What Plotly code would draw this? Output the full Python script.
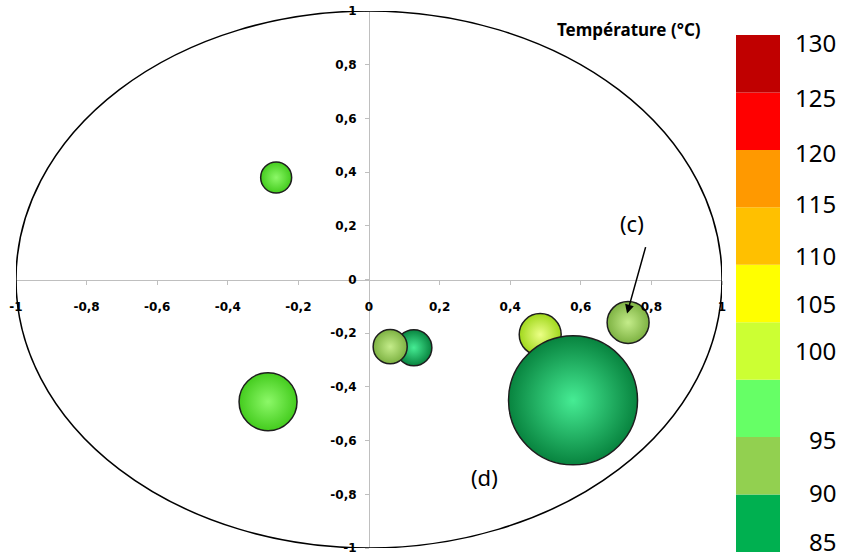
import plotly.graph_objects as go

# ---- data ----
x_vals = [-0.263, -0.286, 0.127, 0.060, 0.485, 0.578, 0.734]
y_vals = [0.380, -0.455, -0.254, -0.250, -0.205, -0.450, -0.160]
bubble_area = [9.6, 33.6, 13.0, 11.6, 17.6, 166.4, 17.6]      # relative bubble size (area)
temperature = [98, 98, 87, 92, 103, 87, 92]                      # °C

axis_ticks = [-1, -0.8, -0.6, -0.4, -0.2, 0, 0.2, 0.4, 0.6, 0.8, 1]
axis_ticktext = ["-1", "-0,8", "-0,6", "-0,4", "-0,2", "0", "0,2", "0,4", "0,6", "0,8", "1"]

scale_lows = [85, 90, 95, 100, 105, 110, 115, 120, 125]
scale_step = 5
scale_colors = ["#00B050", "#92D050", "#66FF66", "#CCFF33", "#FFFF00",
                "#FFC000", "#FF9900", "#FF0000", "#C00000"]
scale_labels = [130, 125, 120, 115, 110, 105, 100, 95, 90, 85]

# ---- style (3D-ish look of bubbles) ----
bubble_edge = {"#00B050": "#08843F", "#92D050": "#7DB242", "#66FF66": "#44CC1E",
               "#CCFF33": "#A0D81C"}
bubble_center = {"#00B050": "#46EC94", "#92D050": "#C4EC8A", "#66FF66": "#8CF868",
                 "#CCFF33": "#ECFF86"}
label_yshift = [-8, -5, -3, 4, 9, 19, 29, -2, 2, 11]


def block_color(t):
    for lo, c in zip(scale_lows, scale_colors):
        if lo <= t < lo + scale_step:
            return c
    return scale_colors[-1]


base_cols = [block_color(t) for t in temperature]
fig = go.Figure()

fig.add_trace(go.Scatter(
    x=x_vals, y=y_vals, mode="markers",
    marker=dict(size=bubble_area, sizemode="area", sizeref=0.02,
                color=[bubble_edge[c] for c in base_cols],
                gradient=dict(type="radial", color=[bubble_center[c] for c in base_cols]),
                line=dict(color="#1E1E1E", width=1.5), opacity=1),
    hovertext=[f"{t} °C" for t in temperature],
    showlegend=False, xaxis="x", yaxis="y"))

# colour scale drawn as stacked blocks
fig.add_trace(go.Bar(
    x=[0] * len(scale_lows), y=[scale_step] * len(scale_lows), base=scale_lows,
    marker=dict(color=scale_colors, line=dict(width=0)), width=1,
    showlegend=False, xaxis="x2", yaxis="y2", hoverinfo="skip"))

# correlation circle
fig.add_shape(type="circle", xref="x", yref="y", x0=-1, x1=1, y0=-1, y1=1,
              line=dict(color="black", width=1.5), layer="above")

tick_font = dict(family="DejaVu Sans", size=12, color="black", weight="bold")

annotations = []
for lab, ys in zip(scale_labels, label_yshift):
    annotations.append(dict(xref="paper", yref="y2", x=838 / 843, y=lab, text=str(lab),
                            showarrow=False, xanchor="right", yanchor="middle", yshift=ys,
                            font=dict(family="Noto Sans", size=24, color="black")))
annotations.append(dict(xref="paper", yref="paper", x=629 / 843, y=1 - 30 / 558,
                        text="<b>Température (°C)</b>", showarrow=False,
                        xanchor="center", yanchor="middle",
                        font=dict(family="Noto Sans", size=17, color="black")))
annotations.append(dict(xref="x", yref="y", x=0.745, y=0.21, text="(c)", showarrow=False,
                        font=dict(family="Noto Sans", size=22, color="black")))
annotations.append(dict(xref="x", yref="y", x=0.326, y=-0.735, text="(d)", showarrow=False,
                        font=dict(family="Noto Sans", size=22, color="black")))
annotations.append(dict(xref="x", yref="y", x=0.731, y=-0.127, text="", showarrow=True,
                        ax=19, ay=-68, arrowhead=2, arrowsize=1.2, arrowwidth=1.5,
                        arrowcolor="black"))

fig.update_layout(
    width=843, height=558,
    margin=dict(l=0, r=0, t=0, b=0, autoexpand=False),
    paper_bgcolor="white", plot_bgcolor="white",
    barmode="overlay",
    xaxis=dict(domain=[16 / 843, 722 / 843], range=[-1, 1], anchor="free",
               position=0.4991, showgrid=False, zeroline=False, showline=True,
               linecolor="#BFBFBF", linewidth=1, ticks="outside", ticklen=4,
               tickcolor="#BFBFBF", tickvals=axis_ticks, ticktext=axis_ticktext,
               tickfont=tick_font, ticklabelstandoff=12, fixedrange=True,
               automargin=False),
    yaxis=dict(domain=[1 - 548 / 558, 1 - 11 / 558], range=[-1, 1], anchor="free",
               position=369 / 843, showgrid=False, zeroline=False, showline=True,
               linecolor="#BFBFBF", linewidth=1, ticks="outside", ticklen=4,
               tickcolor="#BFBFBF", tickvals=axis_ticks, ticktext=axis_ticktext,
               tickfont=tick_font, ticklabelstandoff=6, fixedrange=True,
               automargin=False),
    xaxis2=dict(domain=[736 / 843, 780 / 843], range=[-0.5, 0.5], anchor="y2",
                visible=False, fixedrange=True, automargin=False),
    yaxis2=dict(domain=[1 - 552 / 558, 1 - 35 / 558], range=[85, 130], anchor="x2",
                visible=False, fixedrange=True, automargin=False),
    annotations=annotations,
)

fig.write_html("out.html", config={"displayModeBar": False},
               post_script="document.body.style.margin='0px';"
                           "document.body.style.overflow='hidden';")
